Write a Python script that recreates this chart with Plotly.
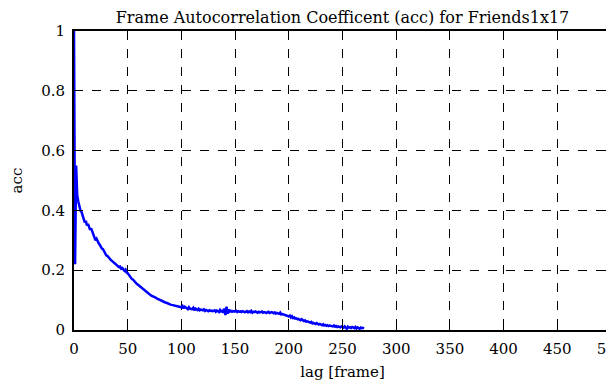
import plotly.graph_objects as go

acc_values = [
    1.0, 0.22, 0.55, 0.45, 0.43, 0.41, 0.40, 0.395, 0.38, 0.375,
    0.36, 0.365, 0.35, 0.355, 0.34, 0.335, 0.34, 0.325, 0.32, 0.31,
    0.30, 0.305, 0.295, 0.29, 0.285, 0.278, 0.272, 0.27, 0.262, 0.258,
    0.25, 0.248, 0.242, 0.24, 0.235, 0.232, 0.228, 0.225, 0.222, 0.218,
    0.215, 0.213, 0.21, 0.212, 0.205, 0.207, 0.2, 0.198, 0.202, 0.192,
    0.19, 0.185, 0.178, 0.175, 0.17, 0.168, 0.163, 0.16, 0.156, 0.153,
    0.15, 0.146, 0.144, 0.14, 0.137, 0.135, 0.131, 0.128, 0.126, 0.123,
    0.12, 0.118, 0.115, 0.113, 0.112, 0.11, 0.108, 0.106, 0.104, 0.102,
    0.10, 0.099, 0.097, 0.096, 0.094, 0.092, 0.091, 0.089, 0.088, 0.086,
    0.085, 0.084, 0.083, 0.082, 0.081, 0.08, 0.079, 0.078, 0.077, 0.076,
    0.076, 0.08, 0.072, 0.078, 0.074, 0.073, 0.07, 0.076, 0.071, 0.07,
    0.07, 0.074, 0.066, 0.072, 0.068, 0.067, 0.071, 0.066, 0.068, 0.066,
    0.066, 0.069, 0.064, 0.067, 0.065, 0.063, 0.066, 0.064, 0.065, 0.063,
    0.064, 0.066, 0.061, 0.065, 0.063, 0.06, 0.067, 0.062, 0.064, 0.058,
    0.072, 0.05, 0.078, 0.055, 0.068, 0.062, 0.064, 0.061, 0.063, 0.062,
    0.062, 0.064, 0.06, 0.063, 0.061, 0.062, 0.06, 0.063, 0.061, 0.06,
    0.061, 0.063, 0.059, 0.062, 0.06, 0.064, 0.058, 0.061, 0.06, 0.062,
    0.06, 0.058, 0.061, 0.059, 0.06, 0.062, 0.058, 0.06, 0.059, 0.057,
    0.059, 0.061, 0.057, 0.059, 0.06, 0.058, 0.056, 0.059, 0.055, 0.057,
    0.056, 0.054, 0.058, 0.052, 0.053, 0.052, 0.05, 0.051, 0.048, 0.047,
    0.045, 0.048, 0.042, 0.046, 0.04, 0.042, 0.038, 0.039, 0.036, 0.037,
    0.035, 0.033, 0.036, 0.031, 0.03, 0.032, 0.028, 0.029, 0.027, 0.026,
    0.025, 0.027, 0.022, 0.024, 0.021, 0.02, 0.023, 0.019, 0.018, 0.02,
    0.018, 0.016, 0.019, 0.015, 0.017, 0.014, 0.016, 0.013, 0.015, 0.014,
    0.014, 0.012, 0.015, 0.011, 0.013, 0.01, 0.012, 0.011, 0.009, 0.012,
    0.01, 0.008, 0.012, 0.009, 0.004, 0.011, 0.008, 0.009, 0.007, 0.01,
    0.008, 0.006, 0.01, 0.005, 0.009, 0.007, 0.004, 0.008, 0.006, 0.007,
    0.005,
]
lags = list(range(len(acc_values)))

x_ticks = [0, 50, 100, 150, 200, 250, 300, 350, 400, 450, 500]
y_ticks = [0, 0.2, 0.4, 0.6, 0.8, 1]
y_tick_labels = ["0", "0.2", "0.4", "0.6", "0.8", "1"]

font_family = "DejaVu Serif"

fig = go.Figure()
fig.add_trace(go.Scatter(
    x=lags, y=acc_values, mode="lines",
    line=dict(color="#0000ff", width=2.5),
    showlegend=False, cliponaxis=True,
))

axis_common = dict(
    showline=True, linecolor="black", linewidth=2, mirror="ticks",
    ticks="inside", ticklen=8, tickcolor="black", tickwidth=1,
    showgrid=True, gridcolor="black", gridwidth=1, griddash="dash",
    zeroline=False, automargin=False, ticklabeloverflow="allow",
    tickfont=dict(family=font_family, size=15, color="black"),
)

fig.update_layout(
    width=614, height=385,
    margin=dict(l=66, r=11, t=23, b=63),
    paper_bgcolor="white", plot_bgcolor="white",
    title=dict(
        text="Frame Autocorrelation Coefficent (acc) for Friends1x17",
        font=dict(family=font_family, size=16, color="black"),
        xref="paper", x=0.5, xanchor="center",
        yref="container", y=1 - 9 / 385, yanchor="middle",
    ),
    xaxis=dict(
        range=[0, 500], tickvals=x_ticks,
        title=dict(text="lag [frame]", font=dict(family=font_family, size=15, color="black"), standoff=9),
        ticklabelstandoff=4,
        **axis_common,
    ),
    yaxis=dict(
        range=[0, 1], tickvals=y_ticks, ticktext=y_tick_labels,
        title=dict(text="acc", font=dict(family=font_family, size=15, color="black"), standoff=25),
        ticklabelstandoff=4,
        **axis_common,
    ),
)

fig.write_html("out.html")
